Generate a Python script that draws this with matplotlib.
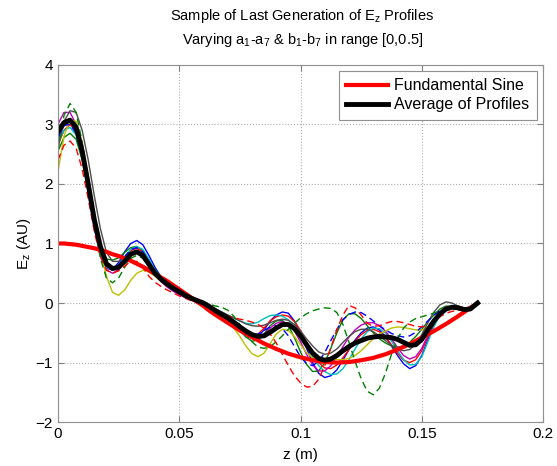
import matplotlib
matplotlib.use("Agg")
import matplotlib.pyplot as plt

plt.rcParams['font.family'] = ['Liberation Sans', 'DejaVu Sans']
plt.rcParams['mathtext.fontset'] = 'custom'
plt.rcParams['mathtext.rm'] = 'Liberation Sans'
plt.rcParams['mathtext.default'] = 'regular'

z = [0, 0.0025, 0.005, 0.0075, 0.01, 0.0125, 0.015, 0.0175, 0.02, 0.0225,
     0.025, 0.0275, 0.03, 0.0325, 0.035, 0.0375, 0.04, 0.0425, 0.045, 0.0475,
     0.05, 0.0525, 0.055, 0.0575, 0.06, 0.0625, 0.065, 0.0675, 0.07, 0.0725,
     0.075, 0.0775, 0.08, 0.0825, 0.085, 0.0875, 0.09, 0.0925, 0.095, 0.0975,
     0.10, 0.1025, 0.105, 0.1075, 0.11, 0.1125, 0.115, 0.1175, 0.12, 0.1225,
     0.125, 0.1275, 0.13, 0.1325, 0.135, 0.1375, 0.14, 0.1425, 0.145, 0.1475,
     0.15, 0.1525, 0.155, 0.1575, 0.16, 0.1625, 0.165, 0.1675, 0.17, 0.173]

fundamental = [1.0, 1.0, 0.99, 0.98, 0.96, 0.94, 0.92, 0.89, 0.86, 0.82,
               0.79, 0.75, 0.71, 0.66, 0.61, 0.55, 0.49, 0.43, 0.37, 0.30,
               0.23, 0.16, 0.09, 0.02, -0.05, -0.13, -0.2, -0.265, -0.33, -0.395,
               -0.46, -0.515, -0.57, -0.625, -0.68, -0.725, -0.77, -0.81, -0.85, -0.88,
               -0.91, -0.935, -0.96, -0.975, -0.99, -0.995, -1.0, -0.995, -0.99, -0.975,
               -0.96, -0.94, -0.92, -0.89, -0.86, -0.82, -0.78, -0.735, -0.69, -0.635,
               -0.58, -0.525, -0.47, -0.41, -0.35, -0.285, -0.22, -0.15, -0.08, 0.0]

average = [2.88, 3.03, 3.07, 2.95, 2.55, 2.0, 1.4, 0.95, 0.66, 0.58,
           0.6, 0.7, 0.82, 0.86, 0.8, 0.65, 0.5, 0.4, 0.32, 0.25,
           0.19, 0.13, 0.08, 0.04, 0.0, -0.06, -0.13, -0.19, -0.25, -0.32,
           -0.4, -0.47, -0.53, -0.56, -0.55, -0.49, -0.42, -0.36, -0.36, -0.43,
           -0.55, -0.7, -0.84, -0.93, -0.96, -0.94, -0.88, -0.8, -0.73, -0.67,
           -0.63, -0.59, -0.57, -0.56, -0.57, -0.58, -0.61, -0.66, -0.71, -0.7,
           -0.61, -0.45, -0.3, -0.18, -0.1, -0.07, -0.08, -0.11, -0.1, 0.0]

prof_b = [2.75, 2.98, 3.05, 2.9, 2.45, 1.85, 1.25, 0.8, 0.58, 0.56,
          0.68, 0.86, 1.0, 1.05, 0.98, 0.8, 0.6, 0.44, 0.33, 0.26,
          0.2, 0.15, 0.1, 0.05, 0.0, -0.06, -0.12, -0.18, -0.25, -0.33,
          -0.42, -0.52, -0.58, -0.56, -0.45, -0.3, -0.2, -0.15, -0.17, -0.3,
          -0.5, -0.76, -1.0, -1.18, -1.25, -1.22, -1.12, -0.96, -0.78, -0.62,
          -0.5, -0.42, -0.4, -0.45, -0.56, -0.72, -0.88, -1.02, -1.1, -1.05,
          -0.88, -0.62, -0.37, -0.17, -0.07, -0.06, -0.1, -0.13, -0.1, 0.0]
prof_g = [2.55, 2.78, 2.85, 2.75, 2.4, 1.9, 1.35, 0.95, 0.74, 0.72,
          0.76, 0.85, 0.93, 0.95, 0.88, 0.72, 0.56, 0.44, 0.34, 0.27,
          0.2, 0.14, 0.08, 0.04, 0.0, -0.06, -0.12, -0.19, -0.27, -0.36,
          -0.46, -0.57, -0.64, -0.62, -0.52, -0.38, -0.3, -0.29, -0.38, -0.58,
          -0.82, -1.03, -1.15, -1.14, -1.0, -0.76, -0.5, -0.28, -0.18, -0.18,
          -0.26, -0.38, -0.5, -0.6, -0.67, -0.72, -0.74, -0.72, -0.66, -0.56,
          -0.44, -0.31, -0.2, -0.1, -0.05, -0.06, -0.1, -0.11, -0.08, 0.0]
prof_r = [2.65, 2.9, 3.0, 2.88, 2.5, 1.95, 1.35, 0.88, 0.62, 0.56,
          0.62, 0.75, 0.88, 0.92, 0.86, 0.7, 0.52, 0.39, 0.3, 0.23,
          0.17, 0.12, 0.07, 0.02, -0.02, -0.08, -0.15, -0.22, -0.3, -0.38,
          -0.46, -0.53, -0.56, -0.52, -0.42, -0.3, -0.23, -0.2, -0.22, -0.31,
          -0.46, -0.65, -0.85, -1.0, -1.09, -1.1, -1.04, -0.92, -0.78, -0.64,
          -0.53, -0.46, -0.44, -0.48, -0.57, -0.7, -0.84, -0.96, -1.0, -0.95,
          -0.8, -0.57, -0.35, -0.18, -0.09, -0.08, -0.11, -0.13, -0.1, 0.0]
prof_c = [2.7, 2.9, 2.95, 2.82, 2.42, 1.88, 1.3, 0.85, 0.6, 0.55,
          0.62, 0.77, 0.9, 0.95, 0.9, 0.74, 0.55, 0.41, 0.3, 0.23,
          0.18, 0.13, 0.08, 0.04, 0.0, -0.05, -0.1, -0.15, -0.2, -0.25,
          -0.3, -0.34, -0.35, -0.32, -0.26, -0.21, -0.2, -0.22, -0.28, -0.39,
          -0.54, -0.72, -0.9, -1.05, -1.15, -1.2, -1.19, -1.1, -0.95, -0.77,
          -0.6, -0.48, -0.42, -0.43, -0.5, -0.64, -0.8, -0.95, -1.04, -1.03,
          -0.9, -0.65, -0.4, -0.2, -0.09, -0.07, -0.1, -0.13, -0.11, 0.0]
prof_m = [3.0, 3.2, 3.2, 3.0, 2.55, 1.95, 1.32, 0.82, 0.56, 0.5,
          0.56, 0.7, 0.82, 0.86, 0.8, 0.65, 0.48, 0.36, 0.27, 0.2,
          0.14, 0.09, 0.05, 0.01, -0.02, -0.08, -0.14, -0.21, -0.28, -0.36,
          -0.45, -0.54, -0.6, -0.6, -0.53, -0.42, -0.34, -0.31, -0.35, -0.47,
          -0.65, -0.86, -1.04, -1.14, -1.14, -1.05, -0.9, -0.73, -0.57, -0.45,
          -0.37, -0.33, -0.33, -0.38, -0.47, -0.6, -0.75, -0.88, -0.94, -0.9,
          -0.76, -0.54, -0.32, -0.15, -0.06, -0.06, -0.1, -0.12, -0.1, 0.0]
prof_y = [2.2, 2.8, 3.08, 3.05, 2.7, 2.1, 1.45, 0.88, 0.45, 0.18,
          0.13, 0.22, 0.38, 0.5, 0.55, 0.52, 0.45, 0.37, 0.3, 0.24,
          0.18, 0.13, 0.08, 0.04, 0.0, -0.05, -0.12, -0.2, -0.3, -0.42,
          -0.56, -0.72, -0.85, -0.9, -0.84, -0.68, -0.52, -0.44, -0.46, -0.56,
          -0.7, -0.83, -0.92, -0.96, -0.96, -0.95, -0.95, -0.95, -0.93, -0.88,
          -0.8, -0.7, -0.6, -0.52, -0.47, -0.42, -0.4, -0.41, -0.43, -0.45,
          -0.45, -0.4, -0.28, -0.15, -0.07, -0.06, -0.09, -0.1, -0.08, 0.0]
prof_k = [2.6, 3.05, 3.23, 3.2, 2.9, 2.4, 1.8, 1.25, 0.85, 0.7,
          0.7, 0.76, 0.83, 0.85, 0.8, 0.68, 0.54, 0.42, 0.33, 0.26,
          0.2, 0.15, 0.1, 0.05, 0.0, -0.05, -0.1, -0.15, -0.2, -0.25,
          -0.3, -0.35, -0.38, -0.39, -0.37, -0.33, -0.29, -0.27, -0.29, -0.36,
          -0.47, -0.6, -0.72, -0.82, -0.86, -0.84, -0.77, -0.66, -0.56, -0.48,
          -0.44, -0.44, -0.48, -0.55, -0.63, -0.71, -0.77, -0.8, -0.78, -0.69,
          -0.53, -0.33, -0.15, -0.03, 0.02, 0.0, -0.05, -0.08, -0.07, 0.0]
prof_b2 = [2.8, 2.98, 3.0, 2.85, 2.45, 1.9, 1.3, 0.85, 0.62, 0.58,
           0.64, 0.78, 0.9, 0.93, 0.86, 0.7, 0.52, 0.39, 0.3, 0.22,
           0.16, 0.11, 0.06, 0.02, -0.02, -0.08, -0.14, -0.21, -0.28, -0.35,
           -0.42, -0.5, -0.54, -0.52, -0.46, -0.4, -0.38, -0.43, -0.55, -0.73,
           -0.9, -1.02, -1.05, -0.98, -0.83, -0.63, -0.44, -0.28, -0.19, -0.15,
           -0.16, -0.22, -0.3, -0.38, -0.45, -0.51, -0.55, -0.57, -0.55, -0.49,
           -0.4, -0.3, -0.2, -0.13, -0.09, -0.09, -0.1, -0.1, -0.07, 0.0]
prof_g2 = [2.55, 3.15, 3.35, 3.2, 2.7, 2.0, 1.3, 0.75, 0.42, 0.34,
           0.42, 0.6, 0.75, 0.8, 0.75, 0.62, 0.48, 0.38, 0.3, 0.24,
           0.18, 0.14, 0.1, 0.06, 0.02, -0.02, -0.05, -0.07, -0.12, -0.22,
           -0.36, -0.52, -0.65, -0.74, -0.76, -0.73, -0.65, -0.55, -0.44, -0.34,
           -0.25, -0.18, -0.13, -0.1, -0.08, -0.09, -0.16, -0.36, -0.66, -0.98,
           -1.27, -1.48, -1.54, -1.43, -1.18, -0.86, -0.6, -0.42, -0.32, -0.26,
           -0.23, -0.2, -0.17, -0.13, -0.1, -0.09, -0.11, -0.11, -0.07, 0.0]
prof_r2 = [2.4, 2.65, 2.72, 2.6, 2.25, 1.75, 1.2, 0.78, 0.55, 0.5,
           0.54, 0.62, 0.7, 0.7, 0.6, 0.45, 0.35, 0.28, 0.22, 0.17,
           0.12, 0.08, 0.04, 0.0, -0.04, -0.09, -0.14, -0.18, -0.22, -0.25,
           -0.27, -0.29, -0.32, -0.36, -0.42, -0.52, -0.67, -0.86, -1.05, -1.22,
           -1.34, -1.41, -1.4, -1.28, -1.05, -0.75, -0.45, -0.2, -0.04, -0.08,
           -0.2, -0.34, -0.39, -0.38, -0.34, -0.31, -0.31, -0.33, -0.36, -0.39,
           -0.4, -0.37, -0.31, -0.23, -0.17, -0.14, -0.12, -0.11, -0.08, 0.0]

profiles = [prof_b, prof_g, prof_r, prof_c, prof_m, prof_y, prof_k,
            prof_b2, prof_g2, prof_r2]
colors = [(0, 0, 1), (0, 0.5, 0), (1, 0, 0), (0, 0.75, 0.75),
          (0.75, 0, 0.75), (0.75, 0.75, 0), (0.3, 0.3, 0.3),
          (0, 0, 1), (0, 0.5, 0), (1, 0, 0)]
styles = ['-'] * 7 + ['--'] * 3

fig = plt.figure(figsize=(5.57, 4.66), dpi=100)
ax = fig.add_axes([0.104, 0.094, 0.871, 0.767])

for p, c, s in zip(profiles, colors, styles):
    line, = ax.plot(z, p, color=c, linestyle=s, linewidth=1.0)
    if s == '--':
        line.set_dashes((5, 3))

ax.plot(z, fundamental, color='red', linewidth=3, label='Fundamental Sine')
ax.plot(z, average, color='black', linewidth=3.5, label='Average of Profiles')

ax.set_xlim(0, 0.2)
ax.set_ylim(-2, 4)
ax.set_xticks([0, 0.05, 0.1, 0.15, 0.2])
ax.set_xticklabels(['0', '0.05', '0.1', '0.15', '0.2'])
ax.set_yticks([-2, -1, 0, 1, 2, 3, 4])
ax.grid(True, linestyle=':', color='#b0b0b0', linewidth=0.8)
ax.tick_params(direction='in', top=True, right=True, labelsize=11,
               color='#808080', length=4)
for sp in ax.spines.values():
    sp.set_color('#909090')

ax.set_xlabel('z (m)', fontsize=11, labelpad=5)
ax.set_ylabel('E$_z$ (AU)', fontsize=11, labelpad=2)

# two-line title, placed line by line
fig.text(0.543, 1 - 16 / 466, 'Sample of Last Generation of E$_z$ Profiles',
         ha='center', va='center', fontsize=10.5)
fig.text(0.543, 1 - 40 / 466,
         'Varying a$_1$-a$_7$ & b$_1$-b$_7$ in range [0,0.5]',
         ha='center', va='center', fontsize=10.5)

leg = ax.legend(loc='upper right', fontsize=11.5, fancybox=False,
                framealpha=1, edgecolor='#909090', handlelength=2.6,
                borderpad=0.45, labelspacing=0.25, handletextpad=0.4,
                borderaxespad=0.4)
leg.get_frame().set_linewidth(0.8)

fig.savefig('out.png', dpi=100)
